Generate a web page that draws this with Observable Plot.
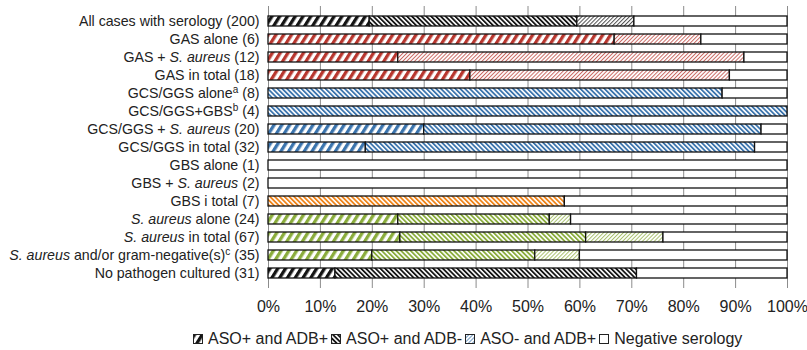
<!DOCTYPE html>
<html>
<head>
<meta charset="utf-8">
<script src="https://cdn.jsdelivr.net/npm/d3@7"></script>
<script src="https://cdn.jsdelivr.net/npm/@observablehq/plot@0.6"></script>
<style>
  html, body { margin: 0; padding: 0; background: #fff; }
  body { width: 807px; height: 350px; overflow: hidden; font-family: "Liberation Sans", Arial, sans-serif; }
  #legend { display: flex; align-items: center; padding-left: 190px; margin-top: 10px; font-size: 16px; color: #222; white-space: nowrap; }
  #legend .item { display: flex; align-items: center; }
  #legend svg { margin-right: 5px; margin-left: 3px; }
</style>
</head>
<body>
<svg width="0" height="0" style="position:absolute"><defs id="pdefs"></defs></svg>
<div id="chart"></div>
<div id="legend"></div>
<script>
const categories = [
  "All cases with serology (200)",
  "GAS alone (6)",
  "GAS + S. aureus (12)",
  "GAS in total (18)",
  "GCS/GGS alonea (8)",
  "GCS/GGS+GBSb (4)",
  "GCS/GGS + S. aureus (20)",
  "GCS/GGS in total (32)",
  "GBS alone (1)",
  "GBS + S. aureus (2)",
  "GBS i total (7)",
  "S. aureus alone (24)",
  "S. aureus in total (67)",
  "S. aureus and/or gram-negative(s)c (35)",
  "No pathogen cultured (31)"
];
const richLabels = [
  "All cases with serology (200)",
  "GAS alone (6)",
  "GAS + <i>S. aureus</i> (12)",
  "GAS in total (18)",
  "GCS/GGS alone<sup>a</sup> (8)",
  "GCS/GGS+GBS<sup>b</sup> (4)",
  "GCS/GGS + <i>S. aureus</i> (20)",
  "GCS/GGS in total (32)",
  "GBS alone (1)",
  "GBS + <i>S. aureus</i> (2)",
  "GBS i total (7)",
  "<i>S. aureus</i> alone (24)",
  "<i>S. aureus</i> in total (67)",
  "<i>S. aureus</i> and/or gram-negative(s)<sup>c</sup> (35)",
  "No pathogen cultured (31)"
];
const rowColor = ["black","red","red","red","blue","blue","blue","blue","black","black","orange","green","green","green","black"];
const seriesNames = ["ASO+ and ADB+", "ASO+ and ADB-", "ASO- and ADB+", "Negative serology"];
// percentages
const asoPosAdbPos = [19.5, 66.7, 25, 38.9, 0, 0, 30, 18.75, 0, 0, 0, 25, 25.4, 20, 12.9];
const asoPosAdbNeg = [40, 0, 0, 0, 87.5, 100, 65, 75, 0, 0, 57.1, 29.2, 35.8, 31.4, 58.1];
const asoNegAdbPos = [11, 16.7, 66.7, 50, 0, 0, 0, 0, 0, 0, 0, 4.1, 14.9, 8.6, 0];
const negative     = [29.5, 16.6, 8.3, 11.1, 12.5, 0, 5, 6.25, 100, 100, 42.9, 41.7, 23.9, 40, 29];
const xTicks = [0, 10, 20, 30, 40, 50, 60, 70, 80, 90, 100];

const palette = {black: "#141414", red: "#b8372f", blue: "#3b74ad", orange: "#ef8419", green: "#8aac3c"};

// patterns
const defs = d3.select("#pdefs");
for (const [name, col] of Object.entries(palette)) {
  const specs = [
    {w: 6.6, band: 3.3, rot: 32, op: 1},
    {w: 3.4, band: 1.8, rot: -45, op: 1},
    {w: 2.8, band: 1.0, rot: 45, op: 0.75}
  ];
  specs.forEach((s, i) => {
    const p = defs.append("pattern")
      .attr("id", `p-${name}-${i}`)
      .attr("patternUnits", "userSpaceOnUse")
      .attr("width", s.w).attr("height", 10)
      .attr("patternTransform", `rotate(${s.rot})`);
    p.append("rect").attr("width", s.w).attr("height", 10).attr("fill", "#fff");
    p.append("rect").attr("width", s.band).attr("height", 10).attr("fill", col).attr("fill-opacity", s.op);
  });
}

const seriesValues = [asoPosAdbPos, asoPosAdbNeg, asoNegAdbPos, negative];
const data = [];
categories.forEach((c, r) => {
  seriesValues.forEach((arr, s) => {
    if (arr[r] > 0) data.push({
      category: c,
      series: seriesNames[s],
      value: arr[r],
      fill: s === 3 ? "#ffffff" : `url(#p-${rowColor[r]}-${s})`
    });
  });
});

const chart = Plot.plot({
  width: 807, height: 320,
  marginLeft: 268, marginRight: 20, marginTop: 6, marginBottom: 32,
  style: {fontSize: "14.2px", fontFamily: "Liberation Sans, Arial, sans-serif", color: "#222", background: "#fff"},
  x: {domain: [0, 100], ticks: xTicks, tickFormat: d => d + "%", label: null, tickSize: 0, tickPadding: 12},
  y: {domain: categories, paddingInner: 0.42, paddingOuter: 0.2, label: null, tickSize: 0, tickPadding: 9},
  color: {type: "identity"},
  marks: [
    Plot.ruleX(xTicks, {stroke: "#8c8c8c", strokeWidth: 1}),
    Plot.barX(data, Plot.stackX({x: "value", y: "category", fill: "fill", stroke: "#111", strokeWidth: 1.3}))
  ]
});
document.getElementById("chart").appendChild(chart);

// larger x tick labels
chart.querySelectorAll('g[aria-label="x-axis tick label"], g[aria-label="x-axis"]').forEach(g => {
  g.setAttribute("font-size", "16");
  g.style.fontSize = "16px";
});

// rich tick labels (italic / superscripts)
function toTspans(html) {
  let out = "";
  const re = /<(i|sup)>(.*?)<\/\1>/g;
  let last = 0, m, raised = false;
  while ((m = re.exec(html))) {
    const before = html.slice(last, m.index);
    if (before) out += `<tspan${raised ? ' dy="5"' : ''}>${before}</tspan>`, raised = false;
    if (m[1] === "i") out += `<tspan${raised ? ' dy="5"' : ''} font-style="italic">${m[2]}</tspan>`, raised = false;
    else { out += `<tspan dy="-5" font-size="10">${m[2]}</tspan>`; raised = true; }
    last = re.lastIndex;
  }
  const rest = html.slice(last);
  if (rest) out += `<tspan${raised ? ' dy="5"' : ''}>${rest}</tspan>`;
  return out;
}
const yTexts = chart.querySelectorAll('g[aria-label="y-axis tick label"] text, g[aria-label="y-axis"] text');
yTexts.forEach(t => {
  const idx = categories.indexOf(t.textContent);
  if (idx >= 0 && richLabels[idx] !== categories[idx]) t.innerHTML = toTspans(richLabels[idx]);
});

// legend
const legend = d3.select("#legend");
const legendFills = ["url(#p-black-0)", "url(#p-black-1)", "url(#p-blue-2)", "#fff"];
seriesNames.forEach((n, i) => {
  const it = legend.append("span").attr("class", "item");
  const s = it.append("svg").attr("width", 10).attr("height", 10);
  s.append("rect").attr("x", 0.5).attr("y", 0.5).attr("width", 9).attr("height", 9)
    .attr("fill", legendFills[i]).attr("stroke", "#222").attr("stroke-width", 1);
  it.append("span").text(n);
});
</script>
</body>
</html>
